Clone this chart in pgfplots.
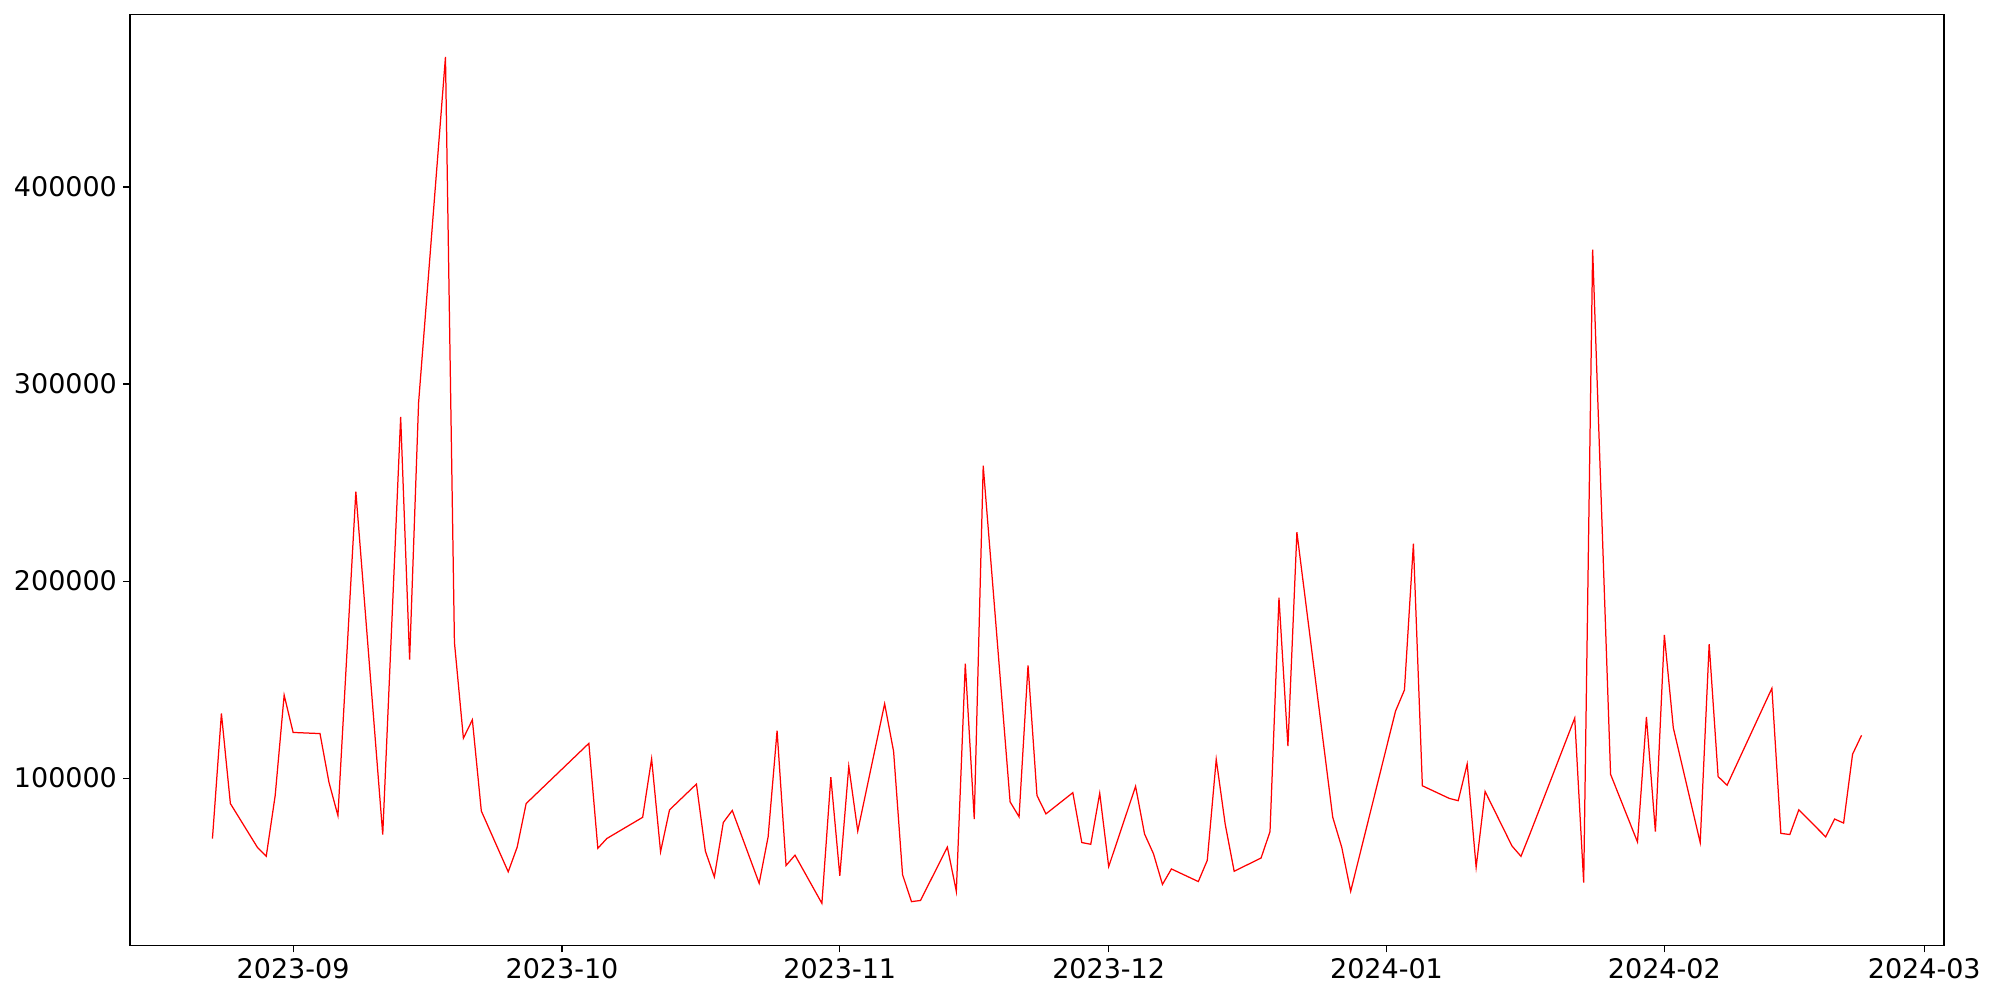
\documentclass[border=0pt]{standalone}
\usepackage{fontspec}
\setmainfont{DejaVu Sans}
\usepackage{pgfplots}
\pgfplotsset{compat=1.18}
\usepackage{pgfplotstable}
\pgfplotstableread{
d v
-9 69357
-8 132803
-7 87110
-4 64991
-3 60334
-2 91185
-1 142117
0 123199
3 122617
4 97879
5 80998
7 245436
10 71394
12 283271
13 160161
14 290547
17 466044
18 168892
19 120289
20 129602
21 83327
24 52476
25 64991
26 87110
33 117669
34 64409
35 69357
39 80125
40 109811
41 62663
42 83909
45 97005
46 62954
47 49857
48 77506
49 83618
52 46655
53 70230
54 124072
55 55678
56 60917
59 36469
60 100498
61 50439
62 106028
63 73140
66 137751
67 113595
68 51021
69 37342
70 37924
73 64991
74 42581
75 158124
76 79252
77 258533
80 87983
81 80416
82 157251
83 91185
84 81871
87 92640
88 67319
89 66446
90 92349
91 55096
94 95841
95 71685
96 61600
97 46073
98 53931
101 47528
102 58299
103 109520
104 76631
105 52768
108 59463
109 72849
110 191593
111 116214
112 224772
116 80125
117 64991
118 42581
123 133967
124 144735
125 218951
126 96132
129 89729
130 88565
131 107192
132 54805
133 93222
136 65573
137 60334
138 71685
143 130475
144 46946
145 368255
147 101953
150 67610
151 131057
152 72849
153 172676
154 125527
157 67319
158 168019
159 100789
160 96423
165 145608
166 71976
167 71394
168 83909
171 70230
172 79252
173 77215
174 112134
175 121743
}\datatab
\begin{document}
\begin{tikzpicture}
\begin{axis}[
  name=ax,
  at={(0,0)}, anchor=south west,
  scale only axis,
  width=1310.9pt, height=672.6pt,
  xmin=-18.2, xmax=184.2,
  ymin=15000, ymax=487300,
  axis line style={line width=0.8pt},
  every tick/.style={black, line width=0.8pt},
  major tick length=4.9pt,
  tick align=outside,
  xtick pos=bottom, ytick pos=left,
  xtick={0,30,61,91,122,153,182},
  xticklabels={2023-09,2023-10,2023-11,2023-12,2024-01,2024-02,2024-03},
  ytick={100000,200000,300000,400000},
  yticklabels={100000,200000,300000,400000},
  scaled y ticks=false,
  tick label style={font=\fontsize{19.5}{23.5}\selectfont},
  /pgf/number format/assume math mode=true,
  xticklabel style={yshift=-1pt},
  yticklabel style={xshift=-1pt},
]
\addplot[red, line width=0.9pt, mark=none] table[x=d, y=v] {\datatab};
\end{axis}
\path (ax.south west) ++(-93.95pt,-39.0pt) coordinate (bl);
\path (ax.north east) ++(40.5pt,10.8pt) coordinate (tr);
\path (bl) rectangle (tr);
\end{tikzpicture}
\end{document}
